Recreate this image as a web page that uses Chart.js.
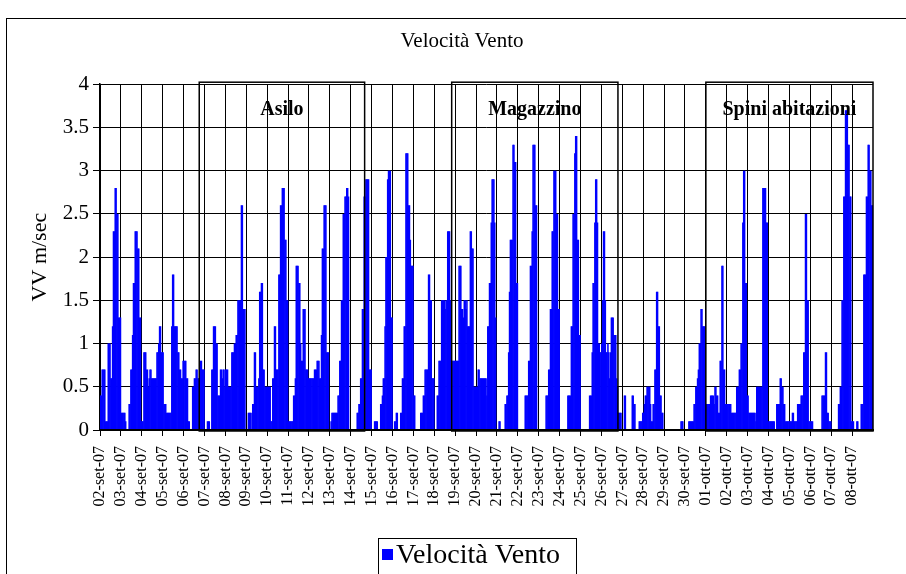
<!DOCTYPE html>
<html lang="it">
<head>
  <meta charset="UTF-8">
  <title>Velocità Vento</title>
  <script src="https://cdn.jsdelivr.net/npm/chart.js"></script>
  <style>
    html, body { margin: 0; height: 100%; overflow: hidden; background: #fff; }
    .frame { position: absolute; left: 6px; top: 18px; width: 900px; height: 600px; border: 1px solid #000; }
    .frame canvas { display: block; }
  </style>
</head>
<body>
<div class="frame"><canvas id="windChart" width="900" height="600"></canvas></div>

<script>
  // one label per day, 24 hourly readings per day
  const days = [
    '02-set-07', '03-set-07', '04-set-07', '05-set-07', '06-set-07', '07-set-07', '08-set-07',
    '09-set-07', '10-set-07', '11-set-07', '12-set-07', '13-set-07', '14-set-07', '15-set-07',
    '16-set-07', '17-set-07', '18-set-07', '19-set-07', '20-set-07', '21-set-07', '22-set-07',
    '23-set-07', '24-set-07', '25-set-07', '26-set-07', '27-set-07', '28-set-07', '29-set-07',
    '30-set-07', '01-ott-07', '02-ott-07', '03-ott-07', '04-ott-07', '05-ott-07', '06-ott-07',
    '07-ott-07', '08-ott-07'
  ];

  // wind speed m/sec, one row per day (hours 0..23)
  const speed = [
    [0.4,0.4,0.7,0.7,0.7,0.7,0.1,0.1,0.1,1.0,1.0,1.0,0.6,0.6,1.2,2.3,2.3,2.8,2.8,2.5,2.5,1.3,1.3,1.3],
    [0.2,0.2,0.2,0.2,0.2,0.1,0,0,0,0.3,0.3,0.7,0.7,1.1,1.7,1.7,2.3,2.3,2.3,2.1,2.1,1.3,1.3,0.1],
    [0.1,0.1,0.9,0.9,0.9,0.7,0.7,0.5,0.6,0.7,0.7,0.6,0.6,0.6,0.6,0.6,0.6,0.9,0.9,1.0,1.2,1.2,0.9,0.9],
    [0.9,0.3,0.3,0.3,0.2,0.2,0.2,0.2,0.2,0.2,1.2,1.8,1.8,1.2,1.2,1.2,1.2,0.9,0.9,0.7,0.7,0.6,0.6,0.8],
    [0.8,0.8,0.8,0.6,0.6,0.1,0.1,0,0,0,0.5,0.5,0.6,0.6,0.7,0.7,0.6,0.6,0.6,0.8,0.8,0.7,0.7,0.7],
    [0,0,0,0.1,0.1,0.1,0,0,0.7,0.7,1.2,1.2,1.2,1.0,1.0,0.4,0.4,0.4,0.7,0.7,0.6,0.7,0.7,0.5],
    [0.7,0.7,0.7,0.5,0.5,0.5,0.5,0.9,0.9,0.9,1.0,1.0,1.1,1.1,1.5,1.5,1.5,1.5,2.6,2.6,1.4,1.4,1.4,0],
    [0,0,0.2,0.2,0.2,0.2,0,0.3,0.3,0.9,0.9,0.5,0.5,0.5,0.6,1.6,1.6,1.7,1.7,0.7,0.7,0.5,0.5,0.5],
    [0.5,0.5,0.5,0.5,0.1,0.1,0.6,0.6,1.2,1.2,0.7,0.7,0.7,1.8,1.8,2.6,2.6,2.8,2.8,2.8,2.2,2.2,1.5,1.5],
    [0.1,0.1,0.1,0.1,0.1,0.1,0.4,0.4,0.6,1.9,1.9,1.9,1.7,1.7,1.0,0.8,0.8,1.4,1.4,1.4,0.7,0.7,0.7,0.6],
    [0.6,0.6,0.6,0.6,0.6,0.6,0.7,0.7,0.7,0.8,0.8,0.8,0.6,0.6,1.1,2.1,2.1,2.6,2.6,2.6,0.9,0.9,0.9,0],
    [0,0.1,0.2,0.2,0.2,0.2,0.2,0.2,0.2,0.4,0.4,0.8,0.8,1.5,1.5,2.5,2.5,2.7,2.7,2.8,2.8,2.7,0,0],
    [0,0,0,0,0,0,0,0.2,0.2,0.3,0.3,0.6,0.6,1.4,1.4,2.7,2.7,2.9,2.9,2.9,2.9,0.7,0.7,0.7],
    [0,0,0,0.1,0.1,0.1,0.1,0,0,0,0.3,0.3,0.4,0.6,0.6,1.2,2.0,2.0,2.9,3.0,3.0,3.0,1.3,1.3],
    [0,0,0.1,0.1,0.2,0.2,0,0,0,0.2,0.2,0.6,0.6,1.2,1.2,3.2,3.2,3.2,2.6,2.6,2.2,1.9,1.9,1.9],
    [0.4,0.4,0,0,0,0,0,0,0.2,0.2,0.2,0.4,0.4,0.7,0.7,0.7,0.7,1.8,1.8,1.5,1.5,0.6,0.6,0.6],
    [0,0,0,0.4,0.4,0.8,0.8,0.8,1.5,1.5,1.5,1.5,1.4,1.5,1.5,2.3,2.3,2.3,1.5,1.5,0.8,0.8,0.8,0.8],
    [0.8,0.8,0.8,0.8,1.9,1.9,1.9,1.4,1.4,1.3,1.5,1.5,1.4,1.5,1.2,1.2,1.2,2.3,2.3,2.1,2.1,0.5,0.5,0.5],
    [0.5,0.5,0.7,0.7,0.6,0.6,0.6,0.6,0.6,0.6,0.6,0.6,0.4,1.2,1.2,1.7,1.7,2.4,2.9,2.9,2.9,2.4,1.3,0],
    [0,0,0.1,0.1,0,0,0,0,0,0.3,0.3,0.4,0.4,0.9,1.6,2.2,2.2,2.2,3.3,3.3,3.1,3.1,1.7,1.7],
    [0,0,0,0,0,0,0,0,0.4,0.4,0.4,0.4,0.8,0.8,1.9,1.9,2.3,3.3,3.3,3.3,2.6,2.6,0,0],
    [0,0,0,0,0,0,0,0,0.4,0.4,0.4,0.7,0.7,1.4,1.4,2.3,2.3,3.0,3.0,3.0,2.5,2.5,1.4,1.4],
    [0,0,0,0,0,0,0,0,0,0.4,0.4,0.4,0.4,1.2,1.2,2.5,2.5,3.2,3.4,3.4,2.2,2.2,1.1,1.1],
    [0,0,0,0,0,0,0,0,0,0,0.4,0.4,0.4,0.9,1.7,1.7,2.4,2.9,2.9,2.4,1.0,1.0,0.9,0.9],
    [1.0,1.5,2.3,2.3,1.5,0.9,0.9,1.0,0.9,0.6,0.9,1.3,1.3,1.3,1.1,1.1,1.1,0.6,0.5,0.2,0.2,0.2,0.2,0],
    [0,0,0.4,0.4,0,0,0,0,0,0,0,0.4,0.4,0.3,0.3,0,0,0,0,0.1,0.1,0.1,0.1,0.2],
    [0.2,0.3,0.4,0.4,0.5,0.5,0.5,0.5,0.3,0.1,0.1,0.3,0.3,0.7,0.7,1.6,1.6,1.2,1.2,0.4,0.4,0.2,0.2,0],
    [0,0,0,0,0,0,0,0,0,0,0,0,0,0,0,0,0,0,0,0.1,0.1,0.1,0,0],
    [0,0,0,0,0.1,0.1,0.1,0.1,0.1,0.1,0.3,0.3,0.5,0.5,0.6,0.7,1.0,1.0,1.4,1.4,1.2,1.2,1.2,0.3],
    [0.3,0.3,0.3,0.3,0.3,0.4,0.4,0.4,0.4,0.3,0.5,0.5,0.4,0.4,0.2,0.2,0.8,0.8,1.9,1.9,0.7,0.7,0.3,0.3],
    [0.3,0.3,0.3,0.3,0.3,0.2,0.2,0.2,0.2,0.2,0.2,0.5,0.5,0.5,0.7,0.7,1.0,1.0,2.4,3.0,3.0,1.7,1.7,0.4],
    [0.4,0.2,0.2,0.2,0.2,0.2,0.2,0.2,0.2,0.1,0.5,0.5,0.5,0.5,0.5,0.5,0.5,2.8,2.8,2.8,2.8,2.4,2.4,0.1],
    [0.1,0.1,0.1,0.1,0.1,0.1,0.1,0,0,0.3,0.3,0.3,0.3,0.6,0.6,0.5,0.5,0.3,0.3,0.1,0.1,0.1,0.1,0.1],
    [0.1,0.1,0.1,0.2,0.2,0.1,0.1,0.1,0.1,0.3,0.3,0.3,0.3,0.4,0.4,0.4,0.9,0.9,2.5,2.5,1.5,1.5,0.1,0.1],
    [0.1,0.1,0.1,0,0,0,0,0,0,0,0,0,0,0.4,0.4,0.4,0.4,0.9,0.9,0.2,0.2,0.1,0.1,0.1],
    [0,0,0,0,0,0,0,0,0.3,0.3,0.5,0.5,1.5,1.5,2.7,2.7,3.7,3.7,3.7,3.3,3.3,2.7,2.7,0.1],
    [0.1,0.1,0,0,0,0.1,0.1,0,0,0,0.3,0.3,0.3,1.8,1.8,1.8,2.7,2.7,3.3,3.3,3.0,3.0,2.6,2.6]
  ];

  // measurement sites, as hour index ranges
  const zoneNames = ['Asilo', 'Magazzino', 'Spini abitazioni'];
  const zoneFrom = [114, 404, 696];
  const zoneTo = [304, 595, 888];

  const serif = '"Liberation Serif", "Times New Roman", serif';
  Chart.defaults.font.family = serif;
  Chart.defaults.color = '#000';

  const points = speed.flat().map((v, i) => ({ x: i + 0.5, y: v }));

  // boxes around the three sites
  const zonesPlugin = {
    id: 'zones',
    afterDatasetsDraw(chart) {
      const { ctx, scales: { x, y } } = chart;
      ctx.save();
      ctx.strokeStyle = '#000';
      ctx.lineWidth = 1.5;
      ctx.fillStyle = '#000';
      ctx.font = 'bold 20px ' + serif;
      ctx.textAlign = 'center';
      ctx.textBaseline = 'middle';
      zoneNames.forEach((name, i) => {
        const x1 = x.getPixelForValue(zoneFrom[i]);
        const x2 = x.getPixelForValue(zoneTo[i]);
        const top = y.getPixelForValue(4) - 2;
        const bottom = y.getPixelForValue(0) + 1;
        ctx.strokeRect(x1, top, x2 - x1, bottom - top);
        ctx.fillText(name, (x1 + x2) / 2, y.getPixelForValue(3.7));
      });
      ctx.restore();
    }
  };

  // boxed legend, as in the original sheet
  const legendPlugin = {
    id: 'boxLegend',
    afterDraw(chart) {
      const { ctx } = chart;
      const ds = chart.data.datasets[0];
      ctx.save();
      ctx.strokeStyle = '#000';
      ctx.lineWidth = 1;
      ctx.strokeRect(371.5, 519.5, 198, 80);
      ctx.fillStyle = ds.backgroundColor;
      ctx.fillRect(375, 530, 11, 11);
      ctx.fillStyle = '#000';
      ctx.font = '28px ' + serif;
      ctx.textBaseline = 'middle';
      ctx.fillText(ds.label, 389, 537);
      ctx.restore();
    }
  };

  new Chart(document.getElementById('windChart'), {
    type: 'bar',
    data: {
      datasets: [{
        label: 'Velocità Vento',
        data: points,
        backgroundColor: '#0000ff',
        borderWidth: 0,
        barPercentage: 1.8,
        categoryPercentage: 1
      }]
    },
    options: {
      responsive: false,
      animation: false,
      layout: { padding: { left: 44, right: 34, top: 0, bottom: 89 } },
      plugins: {
        legend: { display: false },
        tooltip: { enabled: false },
        title: {
          display: true,
          text: 'Velocità Vento',
          color: '#000',
          font: { size: 21, weight: 'normal' },
          padding: { top: 10, bottom: 30 }
        }
      },
      scales: {
        x: {
          type: 'linear',
          min: 0,
          max: days.length * 24,
          offset: false,
          grid: { offset: false, color: '#000', lineWidth: 1, tickLength: 6 },
          border: { color: '#000', width: 2, z: 1 },
          ticks: {
            stepSize: 24,
            autoSkip: false,
            minRotation: 90,
            maxRotation: 90,
            padding: 10,
            font: { size: 16 },
            callback: v => days[v / 24]
          },
          afterFit: s => { s.height = 100; }
        },
        y: {
          min: 0,
          max: 4,
          grid: { color: '#000', lineWidth: 1, tickLength: 7 },
          border: { color: '#000', width: 1.5 },
          ticks: { stepSize: 0.5, padding: 4, font: { size: 21 }, callback: v => String(v) },
          title: {
            display: true,
            text: 'VV m/sec',
            font: { size: 22 },
            padding: { top: -24, bottom: 0 }
          },
          afterFit: s => { s.width = 49; }
        }
      }
    },
    plugins: [zonesPlugin, legendPlugin]
  });
</script>
</body>
</html>
